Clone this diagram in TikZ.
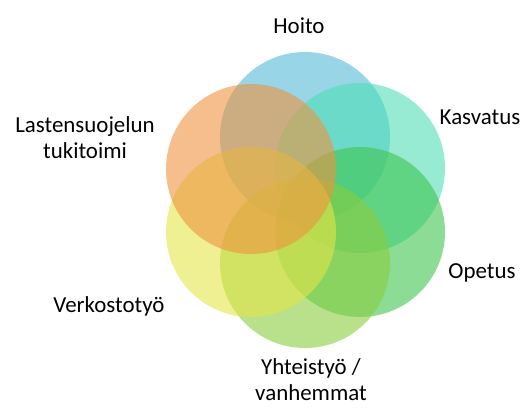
\documentclass[tikz,border=0pt]{standalone}
\usepackage{fontspec}
\setmainfont{Carlito}
\definecolor{cHoito}{RGB}{83,185,213}
\definecolor{cKasv}{RGB}{80,222,180}
\definecolor{cOpet}{RGB}{63,197,80}
\definecolor{cYht}{RGB}{138,205,63}
\definecolor{cVerk}{RGB}{227,230,72}
\definecolor{cLast}{RGB}{238,147,63}
\tikzset{
  ring/.style={circle, minimum size=170bp, inner sep=0pt, fill opacity=0.6, draw=none},
  lbl/.style={font=\fontsize{23}{26}\selectfont, align=center, text=black, inner sep=0pt, anchor=base}
}
\begin{document}
\begin{tikzpicture}[x=1bp,y=-1bp]
\useasboundingbox (0,0) rectangle (524,407);
\node[ring, fill=cHoito] (hoito) at (305,137) {};
\node[ring, fill=cKasv] (kasv) at (360,168) {};
\node[ring, fill=cOpet] (opet) at (360,232) {};
\node[ring, fill=cYht] (yht) at (305,263) {};
\node[ring, fill=cVerk] (verk) at (251,232) {};
\node[ring, fill=cLast] (last) at (251,169) {};
\node[lbl] (lhoito) at (299,33) {Hoito};
\node[lbl] (lkasv) at (480,124) {Kasvatus};
\node[lbl] (lopet) at (482,278) {Opetus};
\node[lbl] (lyht) at (311,400) {Yhteistyö /\\vanhemmat};
\node[lbl] (lverk) at (109,312) {Verkostotyö};
\node[lbl] (llast) at (85,158) {Lastensuojelun\\tukitoimi};
\end{tikzpicture}
\end{document}
